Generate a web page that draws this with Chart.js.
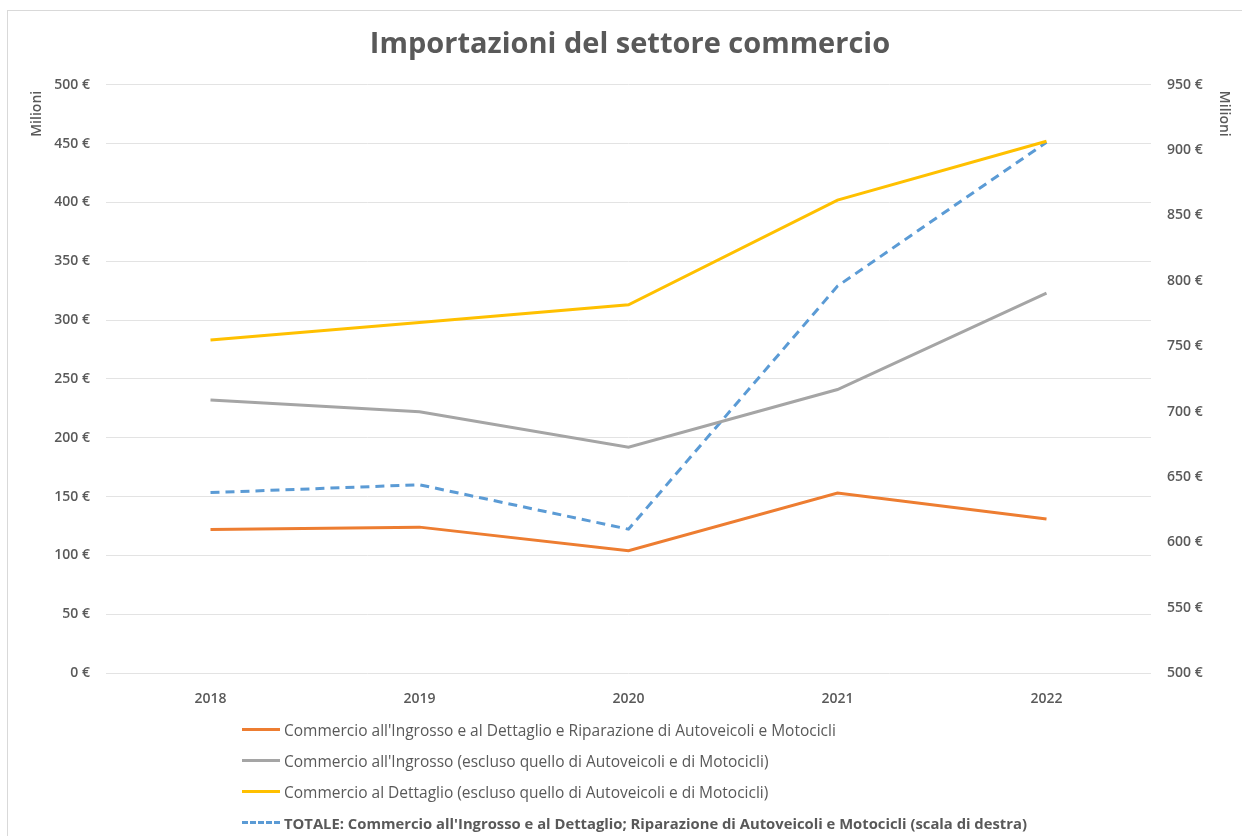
<!DOCTYPE html>
<html>
<head>
<meta charset="utf-8">
<script src="https://cdn.jsdelivr.net/npm/chart.js@4"></script>
<style>
  html, body { margin: 0; padding: 0; background: #fff; }
  #wrap { position: relative; width: 1242px; height: 836px; }
  #frame { position: absolute; left: 7px; top: 10px; width: 1240px; height: 830px;
           border: 1px solid #d9d9d9; pointer-events: none; }
  #legend { position: absolute; left: 242px; top: 714px; font-family: 'Open Sans', sans-serif;
            font-size: 15.5px; color: #595959; }
  .item { display: flex; align-items: center; height: 31px; }
  .swatch { width: 38px; height: 0; margin-right: 4px; border-top: 3px solid; }
</style>
</head>
<body>
<div id="wrap">
  <canvas id="chart" width="1242" height="836"></canvas>
  <div id="frame"></div>
  <div id="legend"></div>
</div>
<script>
// Importazioni del settore commercio — valori in milioni di euro
const years = ['2018', '2019', '2020', '2021', '2022'];

const seriesLabels = [
  "Commercio all'Ingrosso e al Dettaglio e Riparazione di Autoveicoli e Motocicli",
  "Commercio all'Ingrosso (escluso quello di Autoveicoli e di Motocicli)",
  "Commercio al Dettaglio (escluso quello di Autoveicoli e di Motocicli)",
  "TOTALE: Commercio all'Ingrosso e al Dettaglio; Riparazione di Autoveicoli e Motocicli (scala di destra)"
];

const ingrossoDettaglio = [122, 124, 104, 153, 131];
const ingrosso = [232, 222, 192, 241, 323];
const dettaglio = [283, 298, 313, 402, 452];
const totale = [638, 644, 610, 796, 906];   // right axis

const leftTicks = [0, 500, 50];
const rightTicks = [500, 950, 50];

const colors = ['#ed7d31', '#a5a5a5', '#ffc000', '#5b9bd5'];
const textColor = '#595959';
const fontFamily = "'Open Sans', sans-serif";

const euro = v => v + ' €';

// "Milioni" labels sit at the top of each value axis, not centred
const axisUnits = {
  id: 'axisUnits',
  afterDraw(chart) {
    const { ctx, chartArea } = chart;
    [[37, -Math.PI / 2], [1224, Math.PI / 2]].forEach(([x, rot]) => {
      ctx.save();
      ctx.fillStyle = textColor;
      ctx.font = '600 14px ' + fontFamily;
      ctx.textAlign = 'center';
      ctx.textBaseline = 'middle';
      ctx.translate(x, chartArea.top + 29);
      ctx.rotate(rot);
      ctx.fillText('Milioni', 0, 0);
      ctx.restore();
    });
  }
};

const makeSet = (label, data, color, axis, dash) => ({
  label, data,
  borderColor: color,
  backgroundColor: color,
  borderWidth: 3,
  borderDash: dash || [],
  pointRadius: 0,
  tension: 0,
  yAxisID: axis
});

const tickFont = { family: fontFamily, size: 14, weight: '600' };

new Chart(document.getElementById('chart'), {
  type: 'line',
  data: {
    labels: years,
    datasets: [
      makeSet(seriesLabels[0], ingrossoDettaglio, colors[0], 'y'),
      makeSet(seriesLabels[1], ingrosso, colors[1], 'y'),
      makeSet(seriesLabels[2], dettaglio, colors[2], 'y'),
      makeSet(seriesLabels[3], totale, colors[3], 'y1', [9, 6])
    ]
  },
  options: {
    responsive: false,
    animation: false,
    layout: { padding: { left: 18, right: 0, top: 0, bottom: 123 } },
    plugins: {
      legend: { display: false },
      tooltip: { enabled: false },
      title: {
        display: true,
        text: 'Importazioni del settore commercio',
        color: textColor,
        font: { family: fontFamily, size: 29, weight: 'bold' },
        padding: { top: 27, bottom: 23 }
      }
    },
    scales: {
      x: {
        offset: true,
        grid: { display: false },
        border: { display: false },
        ticks: { color: textColor, font: tickFont, padding: 10 },
        afterFit: s => { s.height = 40; }
      },
      y: {
        position: 'left',
        min: leftTicks[0], max: leftTicks[1],
        ticks: { stepSize: leftTicks[2], color: textColor, font: tickFont, padding: 16, callback: euro },
        grid: { color: '#e3e3e3', lineWidth: 1, drawTicks: false },
        border: { display: false },
        afterFit: s => { s.width = 88; }
      },
      y1: {
        position: 'right',
        min: rightTicks[0], max: rightTicks[1],
        ticks: { stepSize: rightTicks[2], color: textColor, font: tickFont, padding: 16, callback: euro },
        grid: { display: false, drawTicks: false },
        border: { display: false },
        afterFit: s => { s.width = 91; }
      }
    }
  },
  plugins: [axisUnits]
});

// legend: one series per row, built from the same arrays
const legendEl = document.getElementById('legend');
seriesLabels.forEach((label, i) => {
  const row = document.createElement('div');
  row.className = 'item';
  const sw = document.createElement('span');
  sw.className = 'swatch';
  sw.style.borderTopColor = colors[i];
  if (i === 3) sw.style.borderTopStyle = 'dashed';
  const txt = document.createElement('span');
  txt.textContent = label;
  if (i === 3) { txt.style.fontWeight = 'bold'; txt.style.fontSize = '14.8px'; }
  row.appendChild(sw);
  row.appendChild(txt);
  legendEl.appendChild(row);
});
</script>
</body>
</html>
